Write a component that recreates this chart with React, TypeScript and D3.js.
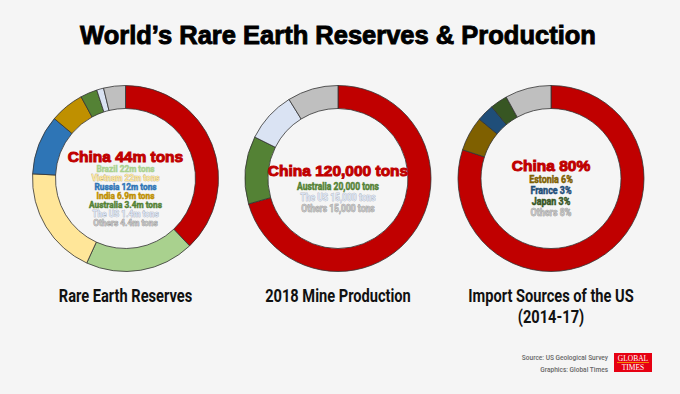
import React from "react";
import * as d3 from "d3";

const W = 680;
const H = 394;

const reserveNames = ["China", "Brazil", "Vietnam", "Russia", "India", "Australia", "The US", "Others"];
const reserveValues = [44, 22, 22, 12, 6.9, 3.4, 1.4, 4.4];
const reserveLabels = ["China 44m tons", "Brazil 22m tons", "Vietnam 22m tons", "Russia 12m tons", "India 6.9m tons", "Australia 3.4m tons", "The US 1.4m tons", "Others 4.4m tons"];
const reserveColors = ["#c00000", "#a9d18e", "#ffe699", "#2e75b6", "#bf9000", "#548235", "#dae3f3", "#bfbfbf"];

const mineNames = ["China", "Australia", "The US", "Others"];
const mineValues = [120000, 20000, 15000, 15000];
const mineLabels = ["China 120,000 tons", "Australia 20,000 tons", "The US 15,000 tons", "Others 15,000 tons"];
const mineColors = ["#c00000", "#548235", "#dae3f3", "#bfbfbf"];

const importNames = ["China", "Estonia", "France", "Japan", "Others"];
const importValues = [80, 6, 3, 3, 8];
const importLabels = ["China 80%", "Estonia 6%", "France 3%", "Japan 3%", "Others 8%"];
const importColors = ["#c00000", "#7f6000", "#1f4e79", "#375623", "#bfbfbf"];

const chartTitles = [["Rare Earth Reserves"], ["2018 Mine Production"], ["Import Sources of the US", "(2014-17)"]];

const charts = [
  { names: reserveNames, values: reserveValues, labels: reserveLabels, colors: reserveColors, cx: 125.5, top: 156, first: 13.3, step: 9.0, fs: 9.2, sx: 0.9 },
  { names: mineNames, values: mineValues, labels: mineLabels, colors: mineColors, cx: 338, top: 170.7, first: 15.3, step: 10.9, fs: 10.3, sx: 0.83 },
  { names: importNames, values: importValues, labels: importLabels, colors: importColors, cx: 551, top: 165, first: 13.7, step: 11.3, fs: 10.8, sx: 0.83 },
];

const CY = 178.5;
const R_OUT = 93;
const R_IN = 70;

function textStroke(c: string) {
  const col = d3.color(c);
  if (!col) return "none";
  const hsl = d3.hsl(col);
  return hsl.l > 0.7 ? col.darker(1.2).formatHex() : c;
}

function Donut({ chart, titleLines }: { chart: any; titleLines: string[] }) {
  const pie = d3.pie<number>().sort(null).value((d) => d).startAngle(0).endAngle(2 * Math.PI);
  const arc = d3.arc<d3.PieArcDatum<number>>().innerRadius(R_IN).outerRadius(R_OUT);
  const arcs = pie(chart.values);
  return (
    <g>
      <g transform={`translate(${chart.cx},${CY})`}>
        {arcs.map((a, i) => (
          <path key={chart.names[i]} d={arc(a) || ""} fill={chart.colors[i]} stroke="#333" strokeWidth={0.8} />
        ))}
      </g>
      {chart.labels.map((lab: string, i: number) => {
        if (i === 0) {
          return (
            <text key={lab} x={chart.cx} y={chart.top} textAnchor="middle" dominantBaseline="central"
              fontFamily="'Liberation Sans', Arial, sans-serif" fontWeight={900} fontSize={15.5}
              fill="#c00000" stroke="#c00000" strokeWidth={1}>
              {lab}
            </text>
          );
        }
        const y = chart.top + chart.first + (i - 1) * chart.step;
        return (
          <g key={lab} transform={`translate(${chart.cx},${y}) scale(${chart.sx},1)`}>
            <text x={0} y={0} textAnchor="middle" dominantBaseline="central"
              fontFamily="Roboto, sans-serif" fontWeight={700} fontSize={chart.fs}
              fill={chart.colors[i]} stroke={textStroke(chart.colors[i])} strokeWidth={0.5} paintOrder="stroke">
              {lab}
            </text>
          </g>
        );
      })}
      {titleLines.map((t, i) => (
        <g key={t} transform={`translate(${chart.cx},${295 + i * 21}) scale(0.77,1)`}>
          <text x={0} y={0} textAnchor="middle" dominantBaseline="central" fontFamily="Roboto, sans-serif"
            fontWeight={700} fontSize={19} fill="#111">
            {t}
          </text>
        </g>
      ))}
    </g>
  );
}

export default function App() {
  return (
    <svg width={W} height={H} style={{ position: "absolute", left: 0, top: 0, display: "block" }}>
      <rect width={W} height={H} fill="#f5f5f5" />
      <text x={338} y={35} textAnchor="middle" dominantBaseline="central" fontFamily="'Liberation Sans', Arial, sans-serif"
        fontWeight={700} fontSize={25.5} fill="#000" stroke="#000" strokeWidth={0.9}>
        World’s Rare Earth Reserves &amp; Production
      </text>
      {charts.map((c, i) => (
        <Donut key={i} chart={c} titleLines={chartTitles[i]} />
      ))}
      <g transform="translate(608,0) scale(0.84,1)">
        <g fontFamily="Roboto, sans-serif" fontWeight={500} fontSize={7.8} fill="#666" textAnchor="end">
          <text x={0} y={357} dominantBaseline="central">Source: US Geological Survey</text>
          <text x={0} y={369} dominantBaseline="central">Graphics: Global Times</text>
        </g>
      </g>
      <rect x={614} y={353} width={38} height={19} fill="#e60012" />
      <text x={633} y={358.5} textAnchor="middle" dominantBaseline="central" fontFamily="'Liberation Serif', serif" fontSize={7.5} fill="#fff">GLOBAL</text>
      <line x1={617} x2={649} y1={362.5} y2={362.5} stroke="#f7c400" strokeWidth={0.7} />
      <text x={633} y={367} textAnchor="middle" dominantBaseline="central" fontFamily="'Liberation Serif', serif" fontSize={7.5} fill="#fff">TIMES</text>
    </svg>
  );
}
